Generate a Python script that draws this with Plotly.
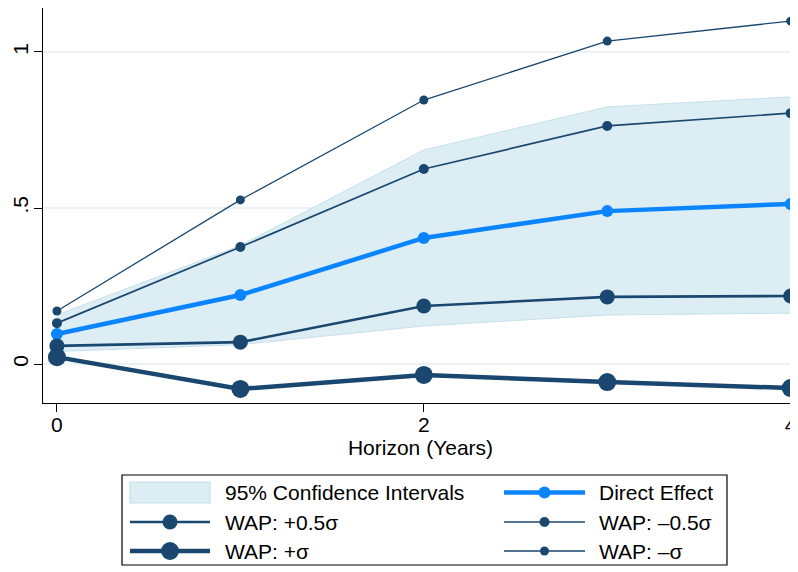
import plotly.graph_objects as go

horizon = [0, 1, 2, 3, 4]
direct_effect = [0.096, 0.221, 0.404, 0.490, 0.513]
ci_lower = [0.040, 0.062, 0.122, 0.157, 0.163]
ci_upper = [0.157, 0.380, 0.686, 0.824, 0.856]
wap_plus_half = [0.058, 0.070, 0.186, 0.215, 0.218]
wap_minus_half = [0.131, 0.375, 0.625, 0.763, 0.804]
wap_plus_one = [0.022, -0.080, -0.035, -0.058, -0.077]
wap_minus_one = [0.170, 0.526, 0.846, 1.035, 1.099]

x_ticks = [0, 2, 4]
x_tick_labels = ["0", "2", "4"]
y_ticks = [0, 0.5, 1]
y_tick_labels = ["0", ".5", "1"]

NAVY = "#1a476f"
BLUE = "#0a85ff"
CI_FILL = "#ddedf4"
CI_LINE = "#c6e0ea"
FONT = "Liberation Sans, Arial, sans-serif"

series = [
    ("Direct Effect", direct_effect, BLUE, 4.5, 12),
    ("WAP: +0.5σ", wap_plus_half, NAVY, 2.6, 15),
    ("WAP: –0.5σ", wap_minus_half, NAVY, 1.7, 10),
    ("WAP: +σ", wap_plus_one, NAVY, 4.5, 18),
    ("WAP: –σ", wap_minus_one, NAVY, 1.3, 9),
]

fig = go.Figure()
fig.add_trace(go.Scatter(x=horizon, y=ci_lower, mode="lines",
                         line=dict(color=CI_LINE, width=1),
                         showlegend=False, hoverinfo="skip"))
fig.add_trace(go.Scatter(x=horizon, y=ci_upper, mode="lines", fill="tonexty",
                         fillcolor=CI_FILL, line=dict(color=CI_LINE, width=1),
                         name="95% Confidence Intervals", showlegend=False))
for name, vals, col, lw, ms in series:
    fig.add_trace(go.Scatter(x=horizon, y=vals, mode="lines+markers",
                             line=dict(color=col, width=lw),
                             marker=dict(size=ms, color=col),
                             name=name, showlegend=False, cliponaxis=False))

# ---- layout in screen pixels (page body adds an 8px offset) ----
OFF = 8
W, H = 798 - OFF, 572 - OFF
PL, PR, PT, PB = 43 - OFF, 798 - OFF, 8 - OFF, 403 - OFF


def fx(px):
    return (px - OFF - PL) / (PR - PL)


def fy(py):
    return (PB - (py - OFF)) / (PB - PT)


shapes = []
annotations = []
shapes.append(dict(type="rect", xref="paper", yref="paper",
                   x0=fx(122), x1=fx(727), y0=fy(475), y1=fy(565),
                   line=dict(color="black", width=1.2), fillcolor="white", layer="above"))

row_y = [492.5, 522, 551]
col_line = [(130, 210), (504, 585)]
col_text = [223, 597]

legend_items = [("95% Confidence Intervals", None, None, None)] + \
    [(n, c, lw, ms) for n, _, c, lw, ms in series]
slots = [(0, 0), (0, 1), (1, 0), (1, 1), (2, 0), (2, 1)]
for (name, col, lw, ms), (r, c) in zip(legend_items, slots):
    y = row_y[r]
    x0, x1 = col_line[c]
    if col is None:
        shapes.append(dict(type="rect", xref="paper", yref="paper",
                           x0=fx(x0), x1=fx(x1), y0=fy(y - 10.5), y1=fy(y + 10.5),
                           line=dict(color=CI_LINE, width=1.2), fillcolor=CI_FILL, layer="above"))
    else:
        shapes.append(dict(type="line", xref="paper", yref="paper",
                           x0=fx(x0), x1=fx(x1), y0=fy(y), y1=fy(y),
                           line=dict(color=col, width=lw), layer="above"))
        xm, ym = fx((x0 + x1) / 2), fy(y)
        shapes.append(dict(type="circle", xref="paper", yref="paper",
                           xsizemode="pixel", ysizemode="pixel",
                           xanchor=xm, yanchor=ym,
                           x0=-ms / 2, x1=ms / 2, y0=-ms / 2, y1=ms / 2,
                           line=dict(width=0), fillcolor=col, layer="above"))
    annotations.append(dict(text=name, xref="paper", yref="paper",
                            x=fx(col_text[c]), y=fy(y), xanchor="left", yanchor="middle",
                            showarrow=False, font=dict(family=FONT, size=21, color="black")))

fig.update_layout(
    width=W, height=H,
    margin=dict(l=PL, r=W - PR, t=PT, b=H - PB),
    plot_bgcolor="white", paper_bgcolor="white",
    font=dict(family=FONT, size=21, color="black"),
    showlegend=False,
    shapes=shapes,
    annotations=annotations,
    xaxis=dict(
        range=[-0.076, 4.04], tickvals=x_ticks, ticktext=x_tick_labels,
        showgrid=False, zeroline=False, showline=True, linecolor="black", linewidth=1.2,
        ticks="outside", ticklen=8, tickcolor="black", tickwidth=1.2,
        tickfont=dict(size=21), automargin=False, ticklabelstandoff=-5,
        title=dict(text="Horizon (Years)", standoff=2, font=dict(size=21)),
    ),
    yaxis=dict(
        range=[-0.125, 1.141], tickvals=y_ticks, ticktext=y_tick_labels,
        showgrid=True, gridcolor="#eaf2f4", gridwidth=1.5, zeroline=False,
        showline=True, linecolor="black", linewidth=1.2,
        ticks="outside", ticklen=8, tickcolor="black", tickwidth=1.2,
        tickangle=-90, tickfont=dict(size=21), automargin=False, ticklabelstandoff=-2,
    ),
)

fig.write_html("out.html")
